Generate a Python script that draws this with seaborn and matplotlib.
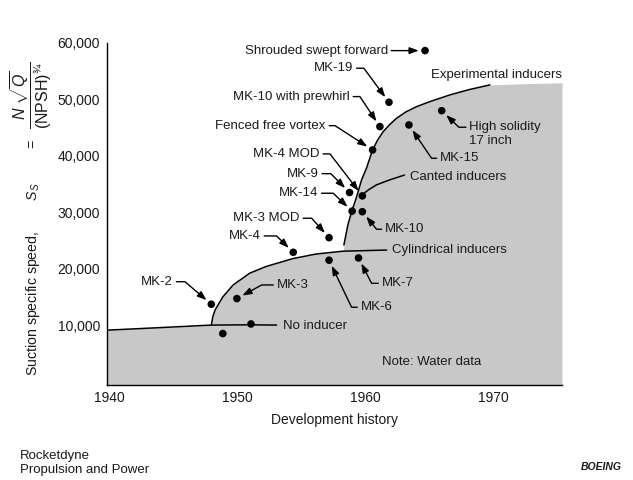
import math
import matplotlib
matplotlib.use("Agg")
import matplotlib.pyplot as plt
import seaborn as sns

# Curves (year, suction specific speed)
no_inducer_year = [1939.85, 1944.0, 1948.0, 1951.0, 1953.1]
no_inducer_ss = [9100, 9550, 10000, 10050, 10000]

cyl_year = [1948.0, 1948.12, 1948.3, 1948.9, 1949.7, 1951.0, 1952.3, 1954.4, 1956.2, 1958.3, 1961.7]
cyl_ss = [10000, 11500, 12700, 15000, 17100, 19200, 20400, 21800, 22600, 23100, 23300]

exp_year = [1958.36, 1958.67, 1958.98, 1959.3, 1959.74, 1960.13, 1960.6, 1961.0, 1961.43,
            1961.95, 1962.48, 1963.2, 1964.04, 1965.08, 1966.64, 1968.2, 1969.77]
exp_ss = [24200, 27750, 30230, 32360, 35730, 37850, 41040, 42820, 44290,
          45570, 46670, 47780, 48720, 49610, 50800, 51770, 52570]

canted_year = [1959.75, 1960.3, 1960.9, 1961.95, 1963.1]
canted_ss = [33050, 34000, 34850, 35750, 36600]

fill_tail_year = [1972.5, 1975.4]
fill_tail_ss = [52800, 52950]

# Inducer data points
point_names = ["Shrouded swept forward", "MK-19", "MK-10 with prewhirl", "Fenced free vortex",
               "MK-15", "High solidity\n17 inch", "MK-4 MOD", "MK-9", "MK-14", "MK-10",
               "MK-3 MOD", "MK-4", "MK-6", "MK-7", "MK-3", "MK-2", "", ""]
point_year = [1964.7, 1961.88, 1961.17, 1960.6, 1963.44, 1966.0, 1959.8, 1958.8, 1959.0, 1959.8,
              1957.2, 1954.4, 1957.2, 1959.5, 1950.0, 1948.0, 1951.1, 1948.9]
point_ss = [58650, 49500, 45180, 41040, 45480, 48000, 32900, 33500, 30200, 30100,
            25500, 22900, 21500, 21900, 14700, 13700, 10200, 8500]

# label layout: text anchor x, y, alignment, x of the leader bend
label_x = [1961.8, 1959.1, 1958.83, 1956.95, 1965.86, 1968.15, 1956.48, 1956.4, 1956.35, 1961.56,
           1954.92, 1951.88, 1959.66, 1961.3, 1953.1, 1945.02]
label_y = [58650, 55530, 50500, 45350, 39570, 43930, 40340, 36840, 33370, 26990,
           28940, 25800, 13160, 17410, 17110, 17690]
label_ha = ["right", "right", "right", "right", "left", "left", "right", "right", "right", "left",
            "right", "right", "left", "left", "left", "right"]
bend_x = [None, 1959.92, 1959.61, 1957.66, 1965.21, 1967.29, 1957.27, 1957.34, 1957.52, 1960.91,
          1955.84, 1953.1, 1958.96, 1960.52, 1951.93, 1945.94]

xtick_vals = [1940, 1950, 1960, 1970, 1975.4]
xtick_labels = ["1940", "1950", "1960", "1970", ""]
ytick_vals = [10000, 20000, 30000, 40000, 50000, 60000]
ytick_labels = ["10,000", "20,000", "30,000", "40,000", "50,000", "60,000"]

sns.set_theme(style="white")
plt.rcParams["font.family"] = ["Liberation Sans", "DejaVu Sans"]
plt.rcParams["mathtext.fontset"] = "custom"
plt.rcParams["mathtext.rm"] = "Liberation Sans"
plt.rcParams["mathtext.it"] = "Liberation Sans:italic"
plt.rcParams["mathtext.bf"] = "Liberation Sans:bold"

TXT = "#1a1a1a"
FS = 9.5

fig = plt.figure(figsize=(6.33, 4.8), dpi=100)
ax = fig.add_axes([107 / 633, 1 - 385 / 480, 455 / 633, 342 / 480])
ax.set_xlim(1939.85, 1975.4)
ax.set_ylim(-620, 60000)

# gray region under the envelope
env_x = no_inducer_year[:3] + cyl_year[1:-1] + exp_year + fill_tail_year
env_y = no_inducer_ss[:3] + cyl_ss[1:-1] + exp_ss + fill_tail_ss
ax.fill_between(env_x, -620, env_y, color="#c8c8c8", lw=0, zorder=1)

for xs, ys in [(no_inducer_year, no_inducer_ss), (cyl_year, cyl_ss),
               (exp_year, exp_ss), (canted_year, canted_ss)]:
    sns.lineplot(x=xs, y=ys, sort=False, estimator=None, color="black", lw=1.1, ax=ax, zorder=3)

sns.scatterplot(x=point_year, y=point_ss, color="black", s=30, edgecolor="none", ax=ax, zorder=5)

# curve labels
ax.text(1953.6, 9800, "No inducer", fontsize=FS, color=TXT, va="center", ha="left")
ax.text(1962.1, 23300, "Cylindrical inducers", fontsize=FS, color=TXT, va="center", ha="left")
ax.text(1963.5, 36300, "Canted inducers", fontsize=FS, color=TXT, va="center", ha="left")
ax.text(1965.2, 54300, "Experimental inducers", fontsize=FS, color=TXT, va="center", ha="left")
ax.text(1961.3, 3500, "Note: Water data", fontsize=FS, color=TXT, va="center", ha="left")

# annotated points with leader arrows
for i in range(len(label_x)):
    name = point_names[i]
    px, py = point_year[i], point_ss[i]
    tx, ty = label_x[i], label_y[i]
    props = dict(arrowstyle="-|>,head_length=0.55,head_width=0.2", color="black", lw=1,
                 shrinkA=0, shrinkB=4.5, mutation_scale=10)
    if bend_x[i] is None:
        props["connectionstyle"] = "arc3"
    else:
        by = ty
        if "\n" in name:
            by = 45180
            props["relpos"] = (0, 0.75)
        b = ax.transData.transform((bend_x[i], by))
        p = ax.transData.transform((px, py))
        ang = math.degrees(math.atan2(p[1] - b[1], p[0] - b[0]))
        props["connectionstyle"] = f"angle,angleA=0,angleB={ang:.1f},rad=0"
    ax.annotate(name, xy=(px, py), xytext=(tx, ty), ha=label_ha[i], va="center",
                fontsize=FS, color=TXT, arrowprops=props, zorder=4)

ax.set_xticks(xtick_vals)
ax.set_xticklabels(xtick_labels)
ax.set_yticks(ytick_vals)
ax.set_yticklabels(ytick_labels)
ax.tick_params(axis="both", direction="in", length=7, width=1, colors="black",
               labelsize=10, labelcolor=TXT, pad=5)
ax.tick_params(axis="x", pad=4)

for side in ["top", "right"]:
    ax.spines[side].set_visible(False)
for side in ["left", "bottom"]:
    ax.spines[side].set_color("black")
    ax.spines[side].set_linewidth(1)

ax.set_xlabel("Development history", fontsize=10, color=TXT, labelpad=6)
ax.grid(False)

# y axis title: text part plus a larger fraction
fig.text(33 / 633, 1 - 376 / 480, "Suction specific speed," + " " * 8 + "$S_S$" + " " * 9 + "=",
         rotation=90, rotation_mode="anchor", ha="left", va="center", fontsize=10.2, color=TXT)
fig.text(31.5 / 633, 1 - 95 / 480, r"$\dfrac{N\ \sqrt{Q}}{\mathrm{(NPSH)}^{¾}}$",
         rotation=90, rotation_mode="anchor", ha="center", va="center", fontsize=11.5, color=TXT)

fig.text(20 / 633, 1 - 456 / 480, "Rocketdyne", fontsize=FS, color=TXT, va="center")
fig.text(20 / 633, 1 - 470 / 480, "Propulsion and Power", fontsize=FS, color=TXT, va="center")
fig.text(622 / 633, 1 - 467 / 480, "BOEING", fontsize=7.5, color=TXT, va="center", ha="right",
         fontweight="bold", fontstyle="italic")

fig.savefig("out.png", dpi=100)
